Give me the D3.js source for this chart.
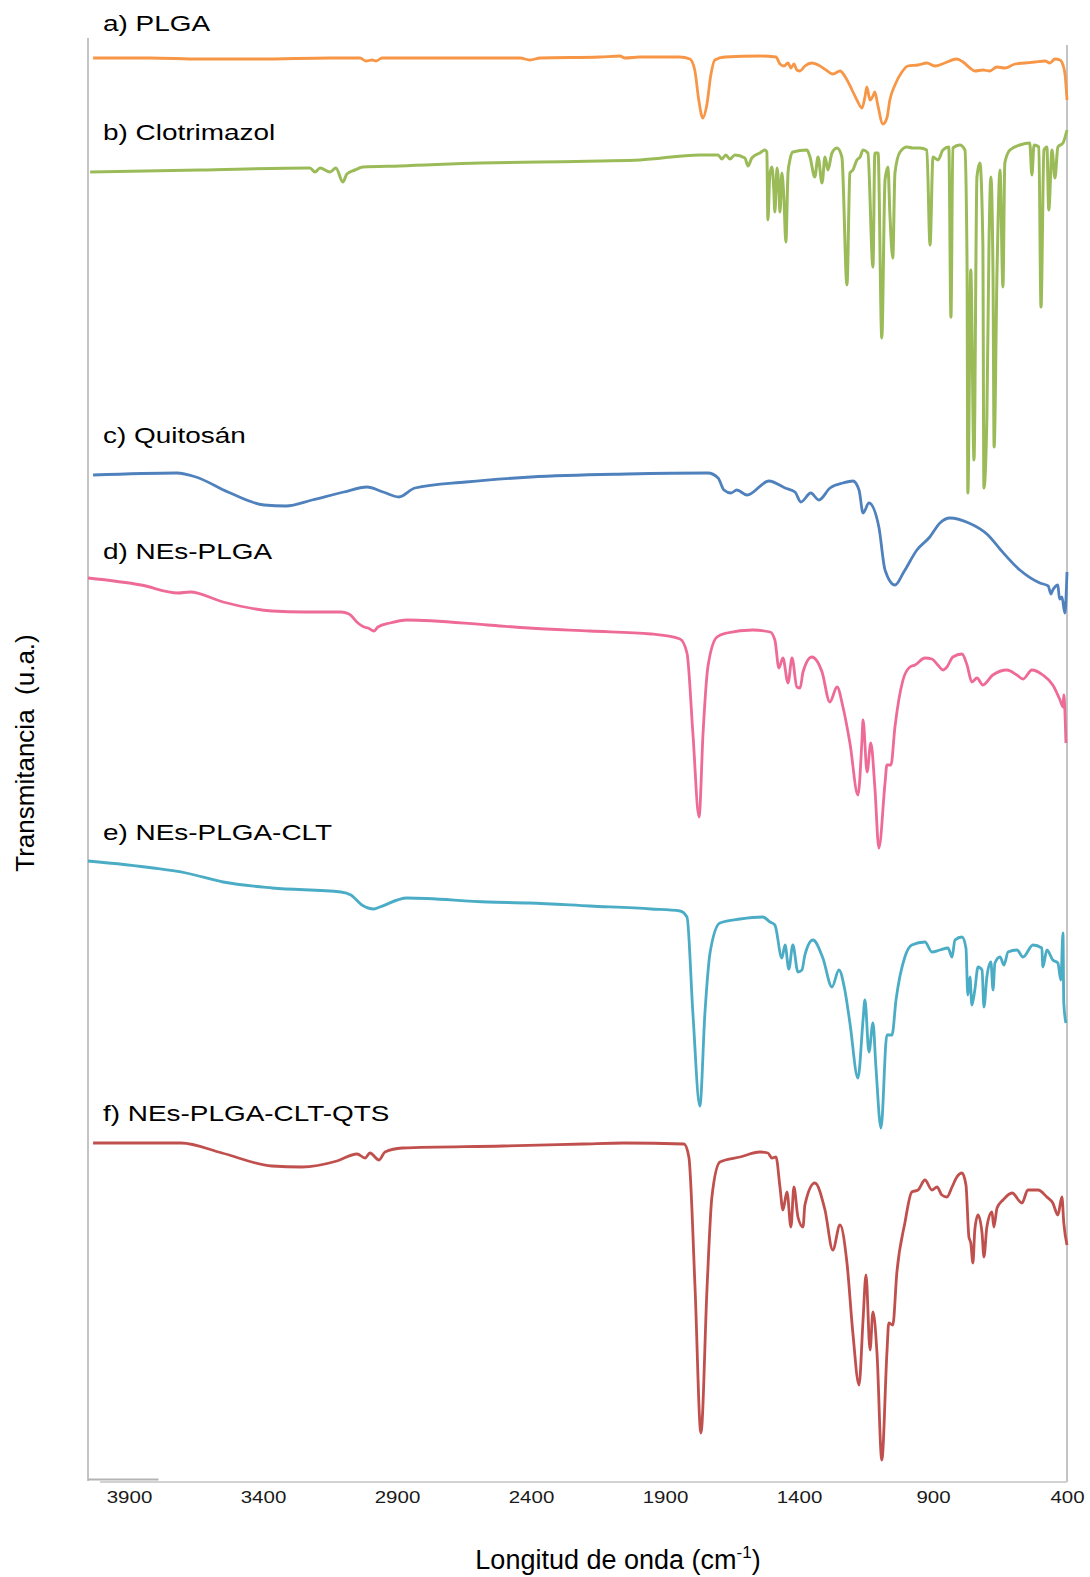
<!DOCTYPE html>
<html>
<head>
<meta charset="utf-8">
<script src="https://cdn.jsdelivr.net/npm/d3@7"></script>
<style>
  body { margin: 0; background: #fff; }
  svg text { font-family: "Liberation Sans", Arial, sans-serif; }
</style>
</head>
<body>
<div id="my_dataviz"></div>
<script>

// FTIR spectra, pairs of [wavenumber (cm-1), transmittance (a.u., stacked)]
var plga = [[4034,142.3],[3822,142.3],[3635,142.2],[3411,142.2],[3150,142.3],[3038,142.3],[3016,142.0],[2993,142.1],[2978,142.0],[2956,142.3],[2702,142.3],[2441,142.3],[2404,142.1],[2366,142.3],[2143,142.4],[2068,142.5],[2050,142.3],[1994,142.4],[1845,142.4],[1807,142.2],[1789,141.1],[1774,138.1],[1759,136.3],[1744,137.6],[1729,140.6],[1714,142.1],[1677,142.4],[1546,142.5],[1486,142.4],[1471,141.7],[1456,141.5],[1441,141.8],[1430,141.3],[1419,141.7],[1408,141.1],[1396,141.0],[1378,141.5],[1352,141.8],[1322,141.5],[1299,141.1],[1273,140.7],[1247,141.0],[1225,140.3],[1202,139.1],[1184,138.1],[1165,137.3],[1154,138.4],[1147,139.4],[1135,138.1],[1124,138.5],[1117,138.9],[1106,137.6],[1087,135.7],[1072,136.3],[1061,138.1],[1042,139.6],[1016,140.9],[994,141.5],[956,141.6],[923,141.8],[893,141.5],[856,141.8],[811,142.2],[788,141.9],[762,141.3],[744,141.0],[714,141.1],[688,141.0],[662,141.4],[632,141.3],[594,141.7],[557,141.8],[520,141.9],[482,142.0],[464,141.8],[445,142.2],[426,142.1],[415,141.6],[407,140.6],[400,138.1]];

var clotrimazol = [[4045,130.9],[3635,131.1],[3225,131.3],[3206,130.9],[3187,131.3],[3150,130.9],[3128,131.3],[3102,129.9],[3087,130.7],[3057,131.1],[3027,131.4],[2889,131.5],[2590,131.8],[2367,131.9],[2143,132.0],[1993,132.1],[1770,132.6],[1702,132.6],[1688,132.2],[1673,132.6],[1658,132.2],[1639,132.6],[1602,132.3],[1590,131.5],[1576,132.3],[1546,132.8],[1527,133.1],[1520,132.9],[1516,126.1],[1509,130.6],[1501,131.4],[1494,129.1],[1490,126.9],[1482,131.3],[1475,129.1],[1471,126.9],[1464,130.8],[1456,128.1],[1449,123.9],[1441,130.8],[1434,132.1],[1423,132.9],[1370,133.1],[1359,132.4],[1341,130.4],[1329,132.4],[1314,129.8],[1303,132.4],[1292,131.1],[1277,132.8],[1258,133.3],[1240,132.4],[1221,119.6],[1210,130.8],[1199,131.1],[1184,132.1],[1172,132.4],[1161,133.1],[1143,132.8],[1124,121.4],[1117,132.8],[1105,132.8],[1091,114.3],[1079,130.1],[1068,131.4],[1061,126.8],[1050,122.3],[1042,130.8],[1023,132.9],[997,133.4],[975,133.3],[949,133.3],[923,133.1],[911,123.6],[900,132.4],[881,132.1],[863,133.1],[841,133.4],[833,116.4],[826,133.3],[800,133.6],[781,133.1],[773,121.8],[770,98.8],[759,121.1],[747,102.1],[736,130.4],[725,131.8],[714,123.8],[710,99.3],[699,106.4],[691,123.8],[684,130.4],[676,120.4],[672,103.4],[661,121.1],[650,131.1],[639,119.4],[632,131.8],[613,133.1],[576,133.6],[539,133.8],[531,130.6],[523,133.6],[505,133.4],[497,117.4],[486,133.1],[475,133.4],[468,127.1],[456,133.1],[445,130.3],[434,133.4],[415,133.8],[400,135.1]];

var quitosan = [[4034,100.6],[3721,100.8],[3650,100.4],[3531,98.9],[3396,97.6],[3314,97.5],[3217,98.1],[3098,98.9],[3012,99.4],[2952,98.9],[2893,98.4],[2833,99.3],[2643,99.9],[2400,100.4],[2042,100.7],[1740,100.8],[1702,100.3],[1680,99.1],[1654,98.8],[1632,99.1],[1594,98.6],[1512,100.0],[1452,99.3],[1415,98.9],[1393,97.9],[1356,98.8],[1326,98.1],[1284,99.3],[1236,99.8],[1199,100.0],[1176,99.1],[1161,96.8],[1139,97.8],[1102,95.4],[1079,91.1],[1042,89.6],[1009,90.9],[960,93.1],[912,94.4],[874,95.8],[837,96.3],[766,95.8],[695,94.6],[647,93.1],[576,91.1],[501,89.8],[470,89.5],[460,88.7],[453,89.1],[445,89.4],[434,89.6],[428,88.2],[419,88.4],[408,86.8],[400,90.9]];

var nesPlga = [[4053,90.3],[3855,89.6],[3717,88.8],[3672,88.9],[3549,87.9],[3366,87.0],[3247,86.9],[3109,86.9],[3079,86.7],[3046,85.8],[3023,85.4],[3008,85.3],[2986,85.0],[2971,85.4],[2926,85.8],[2863,86.1],[2561,85.6],[2408,85.3],[2180,85.0],[1952,84.7],[1844,84.2],[1818,82.8],[1796,74.8],[1773,66.4],[1758,74.8],[1740,81.4],[1706,84.4],[1669,84.8],[1572,85.1],[1508,84.9],[1490,84.1],[1475,81.3],[1460,82.3],[1441,79.8],[1426,82.3],[1408,79.4],[1396,79.3],[1385,80.9],[1352,82.4],[1314,80.9],[1285,77.9],[1258,79.4],[1236,77.4],[1210,73.8],[1180,68.6],[1165,74.1],[1161,76.1],[1146,70.9],[1132,73.8],[1117,69.4],[1102,63.3],[1079,69.8],[1072,71.6],[1057,71.6],[1042,75.4],[1012,80.1],[986,81.4],[967,81.6],[930,82.3],[904,82.2],[882,81.6],[863,81.1],[848,81.4],[826,82.4],[792,82.7],[773,81.6],[755,79.9],[736,80.3],[714,79.6],[677,80.6],[624,81.1],[587,80.6],[564,80.2],[531,81.1],[490,80.6],[453,79.6],[426,78.1],[415,77.4],[412,78.6],[404,73.8]];

var nesPlgaClt = [[4053,62.0],[3810,61.3],[3687,60.8],[3549,59.9],[3366,59.3],[3109,58.9],[3072,58.6],[3031,57.6],[2986,57.2],[2964,57.4],[2863,58.3],[2561,57.9],[2408,57.8],[2180,57.5],[1952,57.2],[1844,57.0],[1818,56.4],[1796,46.8],[1770,37.5],[1751,46.8],[1732,52.8],[1695,55.8],[1620,56.2],[1535,56.4],[1508,55.9],[1490,55.6],[1464,52.3],[1452,53.6],[1438,51.2],[1423,53.6],[1404,50.9],[1389,51.1],[1378,52.6],[1348,54.1],[1311,52.3],[1277,49.4],[1251,51.1],[1229,49.1],[1210,45.8],[1180,40.3],[1161,46.1],[1154,48.1],[1139,42.9],[1124,45.8],[1113,41.4],[1094,35.3],[1072,44.6],[1053,44.6],[1038,48.1],[1005,52.4],[979,53.6],[930,53.9],[904,52.9],[874,53.1],[844,53.3],[829,52.4],[818,54.1],[792,54.4],[777,53.3],[770,48.6],[762,50.4],[755,47.6],[744,49.1],[732,51.4],[717,51.1],[710,47.4],[699,50.4],[684,51.9],[676,49.1],[669,51.8],[650,52.4],[635,51.6],[620,52.9],[587,53.1],[564,52.4],[527,53.6],[494,53.3],[490,51.4],[475,53.1],[453,52.1],[434,51.8],[423,50.1],[415,54.8],[412,47.8],[404,45.8]];

var nesPlgaCltQts = [[4034,33.8],[3706,33.8],[3553,32.8],[3367,31.5],[3255,31.4],[3124,32.0],[3049,32.7],[3019,32.3],[3001,32.8],[2967,32.1],[2945,32.9],[2881,33.3],[2505,33.5],[2206,33.7],[2053,33.8],[1829,33.7],[1811,32.4],[1788,19.4],[1766,4.8],[1743,19.4],[1725,28.4],[1695,31.9],[1620,32.4],[1546,32.9],[1516,32.8],[1501,32.3],[1486,32.4],[1471,29.4],[1460,27.1],[1445,28.9],[1430,25.4],[1419,29.4],[1404,26.4],[1385,25.4],[1378,27.6],[1341,29.8],[1303,27.1],[1274,23.1],[1247,25.6],[1221,21.8],[1199,14.8],[1176,9.6],[1161,16.1],[1150,20.6],[1135,13.1],[1124,16.9],[1109,12.8],[1091,2.1],[1072,12.8],[1065,15.8],[1050,15.6],[1035,20.8],[1005,25.8],[979,28.9],[956,29.1],[930,30.1],[904,29.1],[885,29.4],[867,28.6],[848,28.4],[829,29.4],[811,30.4],[792,30.8],[777,29.6],[766,24.4],[759,23.8],[751,21.8],[744,25.1],[732,26.6],[717,24.8],[710,22.4],[699,25.4],[680,26.9],[673,25.4],[661,27.3],[639,28.1],[605,28.8],[568,27.8],[546,29.1],[508,29.1],[475,28.4],[453,27.8],[434,26.6],[419,28.4],[412,25.8],[400,23.6]];

var seriesNames = ["a) PLGA", "b) Clotrimazol", "c) Quitosán", "d) NEs-PLGA", "e) NEs-PLGA-CLT", "f) NEs-PLGA-CLT-QTS"];
var seriesColors = ["#f79646", "#9bbb59", "#4f81bd", "#ee6b98", "#4bacc6", "#c0504d"];
// label baseline, in the same a.u. as the spectra
var labelLevels = [145, 134.1, 103.8, 92.2, 64.1, 36.0];
var xTickValues = [3900, 3400, 2900, 2400, 1900, 1400, 900, 400];

var width = 1090, height = 1577;

/**
 * Build the two scales of the chart.
 */
function initializeScale(){
    var x = d3.scaleLinear()
              .domain([3900, 400])
              .range([129, 1067]);
    var y = d3.scaleLinear()
              .domain([0, 144])
              .range([1481, 41]);
    return {xScale: x, yScale: y};
}

/**
 * Draw the frame lines and the x axis tick labels.
 */
function addAxis(svg, xScale, yScale){
    var left = xScale(4053), right = xScale(400), bottom = yScale(0);

    svg.append("line")
       .attr("x1", left).attr("x2", left)
       .attr("y1", yScale(144.3)).attr("y2", bottom)
       .attr("stroke", "#c4c4c4").attr("stroke-width", 2);
    svg.append("line")
       .attr("x1", right).attr("x2", right)
       .attr("y1", yScale(143.6)).attr("y2", bottom + 1)
       .attr("stroke", "#b0b0b0").attr("stroke-width", 1.5);
    svg.append("line")
       .attr("x1", left + 12).attr("x2", right)
       .attr("y1", bottom + 1).attr("y2", bottom + 1)
       .attr("stroke", "#d2d2d2").attr("stroke-width", 2);
    // short darker piece at the bottom left
    svg.append("line")
       .attr("x1", left).attr("x2", xScale(3790))
       .attr("y1", bottom - 1.5).attr("y2", bottom - 1.5)
       .attr("stroke", "#b4b4b4").attr("stroke-width", 2);

    var axis = svg.append("g")
        .attr("transform", "translate(0," + (bottom + 22) + ")")
        .call(d3.axisBottom(xScale)
                .tickValues(xTickValues)
                .tickFormat(d3.format("d"))
                .tickSize(0).tickPadding(0));
    axis.select(".domain").remove();
    axis.selectAll("text")
        .attr("y", 0).attr("dy", 0)
        .attr("transform", "scale(1.28,1)")
        .style("font-family", "'Liberation Sans', Arial, sans-serif")
        .style("font-size", "16px")
        .style("fill", "#1a1a1a");
}

/**
 * Draw the six spectra and their labels.
 */
function displaySpectra(svg, xScale, yScale){
    var allSeries = [plga, clotrimazol, quitosan, nesPlga, nesPlgaClt, nesPlgaCltQts];
    var line = d3.line()
        .curve(d3.curveMonotoneX)
        .x(function(d) { return xScale(d[0]); })
        .y(function(d) { return yScale(d[1]); });

    svg.selectAll("path.spectrum")
       .data(allSeries)
       .enter()
       .append("path")
          .attr("class", "spectrum")
          .attr("fill", "none")
          .attr("stroke", function(d, i) { return seriesColors[i]; })
          .attr("stroke-width", function(d, i) { return i == 1 ? 3 : 2.8; })
          .attr("stroke-linejoin", "round")
          .attr("d", line);

    svg.selectAll("text.label")
       .data(seriesNames)
       .enter()
       .append("text")
          .attr("class", "label")
          .attr("transform", function(d, i) {
              return "translate(103," + yScale(labelLevels[i]) + ") scale(1.27,1)";
          })
          .style("font-size", "22px")
          .style("fill", "#000")
          .text(function(d) { return d; });
}

/**
 * Axis titles.
 */
function addTitles(svg){
    var xt = svg.append("text")
        .attr("x", 618).attr("y", 1569)
        .attr("text-anchor", "middle")
        .style("font-size", "27px")
        .style("fill", "#000");
    xt.append("tspan").text("Longitud de onda (cm");
    xt.append("tspan").attr("dy", -11).style("font-size", "17px").text("-1");
    xt.append("tspan").attr("dy", 11).text(")");

    svg.append("text")
        .attr("transform", "translate(34,753) rotate(-90)")
        .attr("text-anchor", "middle")
        .attr("xml:space", "preserve")
        .style("white-space", "pre")
        .style("font-size", "26px")
        .style("fill", "#000")
        .text("Transmitancia  (u.a.)");
}

var svg = d3.select("#my_dataviz")
    .append("svg")
    .attr("width", width)
    .attr("height", height);

var scales = initializeScale();
addAxis(svg, scales.xScale, scales.yScale);
displaySpectra(svg, scales.xScale, scales.yScale);
addTitles(svg);
</script>
</body>
</html>
